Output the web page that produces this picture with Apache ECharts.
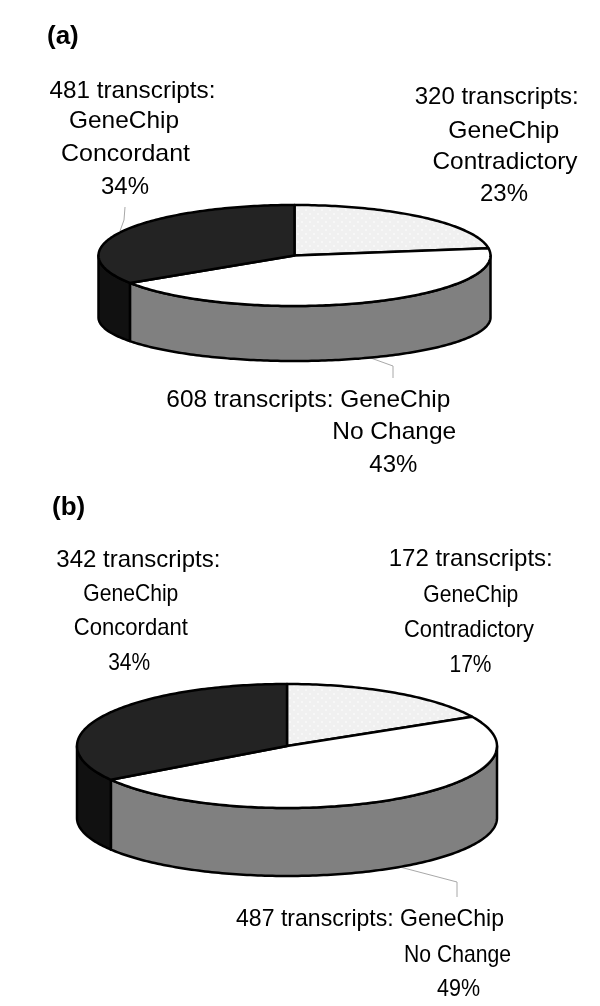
<!DOCTYPE html>
<html>

<head>
    <meta charset="utf-8">
    <title>GeneChip pie charts</title>
    <script src="https://cdn.jsdelivr.net/npm/echarts@6/dist/echarts.min.js"></script>
    <style>
        html,
        body {
            margin: 0;
            background: #fff;
        }

        #chart {
            width: 600px;
            height: 1006px;
        }
    </style>
</head>

<body>
    <div id="chart"></div>
    <script type="text/javascript">
        // values, order: contradictory, no change, concordant
        const categories = ['Contradictory', 'No Change', 'Concordant'];
        const countsA = [320, 608, 481];
        const percentsA = [23, 43, 34];
        const countsB = [172, 487, 342];
        const percentsB = [17, 49, 34];

        const topColors = ['#f0f0f0', '#ffffff', '#232323'];
        const sideColors = ['#c8c8c8', '#808080', '#111111'];
        const FONT_FAMILY = '"Liberation Sans", Arial, sans-serif';
        const LABEL_FONT = '24px ' + FONT_FAMILY;

        // ellipse of each pie, in pixels. The lower rim is a bit flatter than the upper one
        const pieA = { cx: 294.5, cy: 255.5, rx: 196, ry: 50.5, sideDepth: 62, frontDepth: 55 };
        const pieB = { cx: 287, cy: 746, rx: 210, ry: 62, sideDepth: 72, frontDepth: 68 };

        // light slice has a faint dotted fill
        function dottedFill() {
            const c = document.createElement('canvas');
            c.width = c.height = 8;
            const ctx = c.getContext('2d');
            ctx.fillStyle = '#f0f0f0';
            ctx.fillRect(0, 0, 8, 8);
            ctx.fillStyle = '#f7f7f7';
            ctx.fillRect(1, 1, 2, 2);
            ctx.fillRect(5, 5, 2, 2);
            return { image: c, repeat: 'repeat' };
        }
        const dots = dottedFill();

        function rimPoint(pie, deg, lower) {
            const t = deg * Math.PI / 180;
            const x = pie.cx + pie.rx * Math.sin(t);
            let y = pie.cy - pie.ry * Math.cos(t);
            if (lower) {
                y += pie.sideDepth + (pie.sideDepth - pie.frontDepth) * Math.cos(t);
            }
            return [x, y];
        }

        function pieSeries(values, pie) {
            const total = values.reduce((a, b) => a + b, 0);
            const starts = [];
            let sum = 0;
            values.forEach(v => {
                starts.push(sum / total * 360);
                sum += v;
            });
            return {
                type: 'custom',
                coordinateSystem: 'none',
                silent: true,
                animation: false,
                data: values.map((v, i) => ({ value: [v], name: categories[i] })),
                renderItem: function (params, api) {
                    const i = params.dataIndex;
                    const from = starts[i];
                    const to = from + api.value(0) / total * 360;
                    const children = [];

                    // side wall, only the part facing the viewer
                    const sideFrom = Math.max(from, 90);
                    const sideTo = Math.min(to, 270);
                    if (sideFrom < sideTo) {
                        const upper = [];
                        const lower = [];
                        for (let d = sideFrom; d < sideTo; d += 1) {
                            upper.push(rimPoint(pie, d, false));
                            lower.push(rimPoint(pie, d, true));
                        }
                        upper.push(rimPoint(pie, sideTo, false));
                        lower.push(rimPoint(pie, sideTo, true));
                        children.push({
                            type: 'polygon',
                            shape: { points: upper.concat(lower.reverse()) },
                            style: { fill: sideColors[i], stroke: '#000', lineWidth: 2.5, lineJoin: 'round' }
                        });
                    }

                    // top face
                    const face = [[pie.cx, pie.cy]];
                    for (let d = from; d < to; d += 1) {
                        face.push(rimPoint(pie, d, false));
                    }
                    face.push(rimPoint(pie, to, false));
                    children.push({
                        type: 'polygon',
                        shape: { points: face },
                        style: { fill: i === 0 ? dots : topColors[i], stroke: '#000', lineWidth: 2.5, lineJoin: 'round' }
                    });
                    return { type: 'group', children: children };
                }
            };
        }

        const measureCtx = document.createElement('canvas').getContext('2d');

        // one line of text, centred on cx and stretched to the width it has in the picture
        function textLine(text, cx, baseline, width) {
            measureCtx.font = LABEL_FONT;
            return {
                type: 'text',
                x: cx,
                y: baseline - 6,
                scaleX: width / measureCtx.measureText(text).width,
                silent: true,
                style: {
                    text: text,
                    fill: '#000',
                    font: LABEL_FONT,
                    align: 'center',
                    verticalAlign: 'middle'
                }
            };
        }

        function panelTitle(text, x, baseline) {
            return {
                type: 'text',
                x: x,
                y: baseline - 6,
                silent: true,
                style: {
                    text: text,
                    fill: '#000',
                    font: 'bold 26px ' + FONT_FAMILY,
                    align: 'left',
                    verticalAlign: 'middle'
                }
            };
        }

        function leader(points) {
            return {
                type: 'polyline',
                silent: true,
                shape: { points: points },
                style: { fill: null, stroke: '#a8a8a8', lineWidth: 1 }
            };
        }

        const transcripts = n => n + ' transcripts:';
        const pct = n => n + '%';

        const graphics = [
            panelTitle('(a)', 47, 43),
            leader([[125, 207], [124, 220], [120, 231]]),
            leader([[368, 357], [393, 366], [393, 378]]),
            textLine(transcripts(countsA[2]), 132.5, 97, 166),
            textLine('GeneChip', 124, 127, 110),
            textLine(categories[2], 125.5, 160, 129),
            textLine(pct(percentsA[2]), 125, 193, 48),
            textLine(transcripts(countsA[0]), 496.7, 103, 164),
            textLine('GeneChip', 503.8, 137, 111),
            textLine(categories[0], 505, 168, 145),
            textLine(pct(percentsA[0]), 504, 200, 48),
            textLine(transcripts(countsA[1]) + ' GeneChip', 308.3, 406.7, 284),
            textLine(categories[1], 394.2, 438, 124),
            textLine(pct(percentsA[1]), 393.3, 471, 48),

            panelTitle('(b)', 52, 514),
            leader([[400, 867], [457, 882], [457, 897]]),
            textLine(transcripts(countsB[2]), 138.3, 566, 164),
            textLine('GeneChip', 130.8, 600, 95),
            textLine(categories[2], 130.8, 634, 114),
            textLine(pct(percentsB[2]), 129.2, 669, 42),
            textLine(transcripts(countsB[0]), 470.7, 565.7, 164),
            textLine('GeneChip', 470.8, 601, 95),
            textLine(categories[0], 469, 636.7, 130),
            textLine(pct(percentsB[0]), 470.5, 671.7, 42),
            textLine(transcripts(countsB[1]) + ' GeneChip', 370, 925.7, 268),
            textLine(categories[1], 457.5, 961, 107),
            textLine(pct(percentsB[1]), 458.5, 995.7, 43)
        ];

        const chart = echarts.init(document.getElementById('chart'), null, { renderer: 'canvas' });
        chart.setOption({
            backgroundColor: '#fff',
            animation: false,
            series: [pieSeries(countsA, pieA), pieSeries(countsB, pieB)],
            graphic: { elements: graphics }
        });
    </script>
</body>

</html>
